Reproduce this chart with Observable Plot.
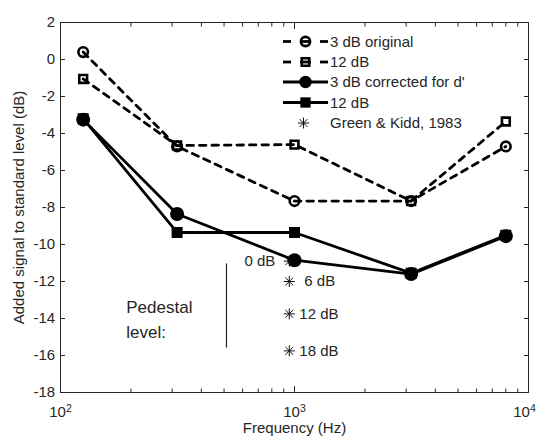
<!DOCTYPE html>
<html><head><meta charset="utf-8">
<script src="https://cdn.jsdelivr.net/npm/d3@7"></script>
<script src="https://cdn.jsdelivr.net/npm/@observablehq/plot@0.6"></script>
<style>
body{margin:0;background:#fff}
#chart{position:relative;width:538px;height:440px}
</style>
</head><body><div id="chart"></div>
<script>
// ---- data ----
const freqs = [125, 315, 1000, 3150, 8000];
const orig3 = [0.4, -4.7, -7.65, -7.65, -4.7];
const orig12 = [-1.05, -4.65, -4.6, -7.65, -3.35];
const corr3 = [-3.25, -8.35, -10.85, -11.6, -9.55];
const corr12 = [-3.2, -9.35, -9.35, -11.55, -9.5];
const gkFreq = 950;
const gkValues = [-10.9, -12.0, -13.75, -15.75];
const gkLabels = ["0 dB", "6 dB", "12 dB", "18 dB"];
const legendLabels = ["3 dB original", "12 dB", "3 dB corrected for d'", "12 dB", "Green & Kidd, 1983"];
const xTicksMajor = [100, 1000, 10000];
const xTicksMinor = [200, 300, 400, 500, 600, 700, 800, 900, 2000, 3000, 4000, 5000, 6000, 7000, 8000, 9000];
const yTicks = [-18, -16, -14, -12, -10, -8, -6, -4, -2, 0, 2];
const xLabel = "Frequency (Hz)";
const yLabel = "Added signal to standard level (dB)";
const pedestalLabel = "Pedestal\nlevel:";
const pedestalLabelPos = {f: 191, v: -13.93};
const pedestalBar = {f: 512, v1: -11.05, v2: -15.6};

const toRows = vals => freqs.map((f, i) => ({f, v: vals[i]}));
const gk = gkValues.map((v, i) => ({f: gkFreq, v, label: gkLabels[i], i}));

// 8-arm asterisk symbol
const star = {
  draw(ctx, size) {
    const r = Math.sqrt(size / Math.PI);
    for (let k = 0; k < 4; k++) {
      const a = k * Math.PI / 4;
      const c = Math.cos(a) * r, s = Math.sin(a) * r;
      ctx.moveTo(c, s); ctx.lineTo(-c, -s);
    }
  }
};
const sup = {2: "\u00B2", 3: "\u00B3", 4: "\u2074"};
const dash = "6.5,6";
const LW = 2.8;

const plot = Plot.plot({
  width: 538, height: 440,
  marginLeft: 60, marginRight: 10, marginTop: 22, marginBottom: 48,
  style: {fontSize: "15px", fontFamily: "'Liberation Sans', Arial, sans-serif", color: "#262626", background: "white"},
  x: {type: "log", domain: [100, 10000]},
  y: {domain: [-18, 2]},
  marks: [
    Plot.axisX({anchor: "bottom", ticks: xTicksMajor, tickSize: -6, tickPadding: 19.7, label: null,
      tickFormat: d => "10" + sup[Math.round(Math.log10(d))], lineAnchor: "top"}),
    Plot.axisX({anchor: "bottom", ticks: xTicksMinor, tickSize: -3.5, label: null, tickFormat: () => ""}),
    Plot.axisX({anchor: "top", ticks: xTicksMajor, tickSize: -6, label: null, tickFormat: () => ""}),
    Plot.axisX({anchor: "top", ticks: xTicksMinor, tickSize: -3.5, label: null, tickFormat: () => ""}),
    Plot.axisY({anchor: "left", ticks: yTicks, tickSize: -5, tickPadding: 10.3, label: null, tickFormat: d => String(d)}),
    Plot.axisY({anchor: "right", ticks: yTicks, tickSize: -5, label: null, tickFormat: () => ""}),
    Plot.frame({stroke: "#262626", strokeWidth: 1}),
    Plot.text([yLabel], {frameAnchor: "left", textAnchor: "middle", dx: -41, rotate: -90}),
    Plot.text([xLabel], {frameAnchor: "bottom", dy: 40}),
    // dashed series
    Plot.line(toRows(orig3), {x: "f", y: "v", stroke: "black", strokeWidth: LW, strokeDasharray: dash}),
    Plot.line(toRows(orig12), {x: "f", y: "v", stroke: "black", strokeWidth: LW, strokeDasharray: dash}),
    Plot.dot(toRows(orig3), {x: "f", y: "v", r: 4.8, stroke: "black", strokeWidth: 2.6, fill: "none"}),
    Plot.dot(toRows(orig12), {x: "f", y: "v", r: 4.4, symbol: "square", stroke: "black", strokeWidth: 2.6, fill: "none"}),
    // solid series
    Plot.line(toRows(corr12), {x: "f", y: "v", stroke: "black", strokeWidth: LW}),
    Plot.line(toRows(corr3), {x: "f", y: "v", stroke: "black", strokeWidth: LW}),
    Plot.dot(toRows(corr12), {x: "f", y: "v", r: 6.2, symbol: "square", fill: "black"}),
    Plot.dot(toRows(corr3), {x: "f", y: "v", r: 7, fill: "black"}),
    // Green & Kidd
    Plot.dot(gk, {x: "f", y: "v", r: 5.5, symbol: star, stroke: "#111", strokeWidth: 1, fill: "none"}),
    Plot.text(gk, {filter: d => d.i === 0, x: "f", y: "v", text: "label", textAnchor: "end", dx: -14}),
    Plot.text(gk, {filter: d => d.i === 1, x: "f", y: "v", text: "label", textAnchor: "start", dx: 15}),
    Plot.text(gk, {filter: d => d.i > 1, x: "f", y: "v", text: "label", textAnchor: "start", dx: 10}),
    // pedestal annotation
    Plot.text([pedestalLabelPos], {x: "f", y: "v", text: () => pedestalLabel, textAnchor: "start", fontSize: 17, lineHeight: 1.5}),
    Plot.ruleX([pedestalBar], {x: "f", y1: "v1", y2: "v2", stroke: "#222", strokeWidth: 1.2})
  ]
});

// superscript exponents on x tick labels
d3.select(plot).selectAll('g[aria-label="x-axis tick label"] text').each(function() {
  const t = this.textContent;
  if (t.length === 3 && t.startsWith("10")) {
    const e = {"\u00B2": "2", "\u00B3": "3", "\u2074": "4"}[t[2]];
    if (e) {
      this.textContent = "10";
      if (e === "4") d3.select(this).attr("dx", -4);
      d3.select(this).append("tspan").attr("dy", "-0.45em").attr("font-size", "10.5px").text(e);
    }
  }
});

// legend
const lg = d3.select(plot).append("g").attr("font-size", "15px").attr("fill", "#262626").attr("text-anchor", "start");
const rowsY = [41.5, 62, 82, 102.5, 123];
const x0 = 283, x1 = 328, xm = 305.5, xt = 330;
rowsY.forEach((y, i) => {
  if (i < 2) {
    [[x0, x0 + 8], [xm - 5.5, xm + 5.5], [x1 - 8, x1]].forEach(([a, b]) =>
      lg.append("line").attr("x1", a).attr("x2", b).attr("y1", y).attr("y2", y).attr("stroke", "black").attr("stroke-width", LW));
    lg.append("path").attr("transform", `translate(${xm},${y})`)
      .attr("d", d3.symbol(i === 0 ? d3.symbolCircle : d3.symbolSquare, i === 0 ? Math.PI * 4.6 * 4.6 : Math.PI * 4.2 * 4.2)())
      .attr("fill", "none").attr("stroke", "black").attr("stroke-width", 2.6);
  } else if (i < 4) {
    lg.append("line").attr("x1", x0).attr("x2", x1).attr("y1", y).attr("y2", y).attr("stroke", "black").attr("stroke-width", LW);
    lg.append("path").attr("transform", `translate(${xm},${y})`)
      .attr("d", d3.symbol(i === 2 ? d3.symbolCircle : d3.symbolSquare, i === 2 ? Math.PI * 6.2 * 6.2 : Math.PI * 5.8 * 5.8)())
      .attr("fill", "black");
  } else {
    lg.append("path").attr("transform", `translate(${xm - 2},${y})`)
      .attr("d", d3.symbol(star, Math.PI * 5.5 * 5.5)())
      .attr("fill", "none").attr("stroke", "#111").attr("stroke-width", 1);
  }
  lg.append("text").attr("x", xt).attr("y", y).attr("dy", "0.35em").text(legendLabels[i]);
});

document.getElementById("chart").appendChild(plot);
</script>
</body></html>
